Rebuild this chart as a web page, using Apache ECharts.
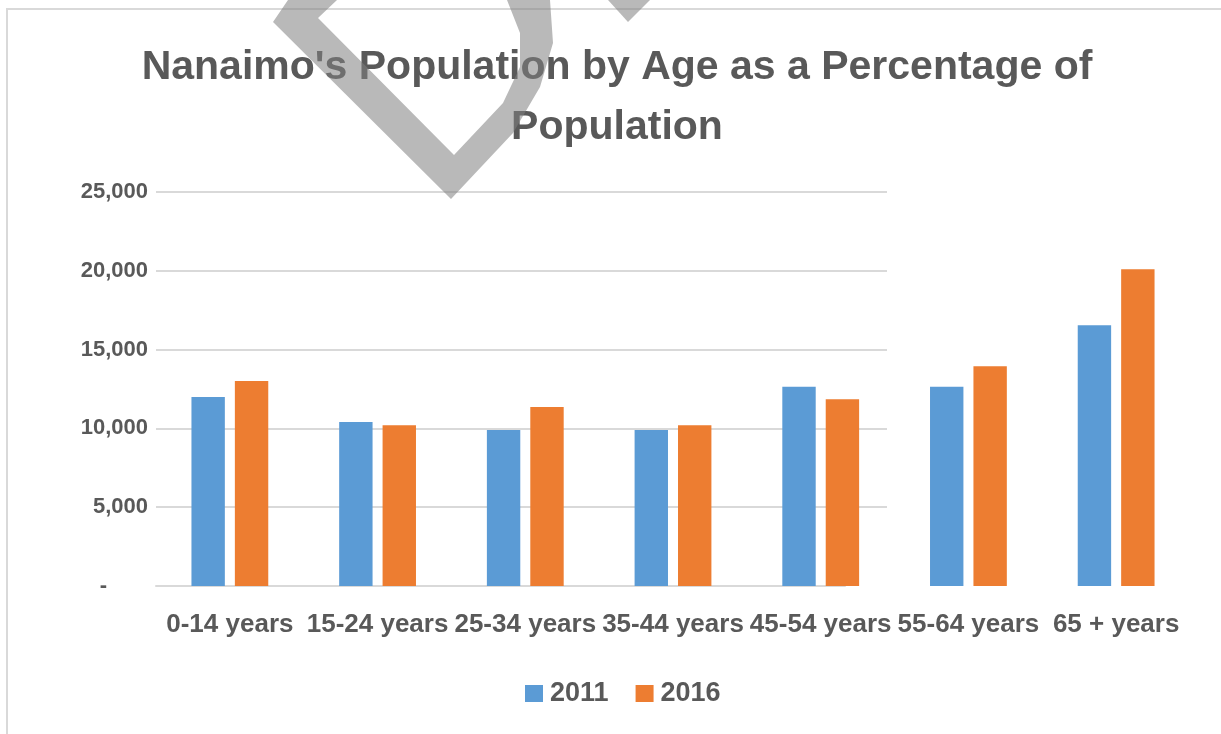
<!DOCTYPE html>
<html>
<head>
<meta charset="utf-8">
<script src="https://cdn.jsdelivr.net/npm/echarts@6/dist/echarts.min.js"></script>
<style>
html,body{margin:0;padding:0;background:#fff;}
#chart{width:1221px;height:734px;}
</style>
</head>
<body>
<div id="chart"></div>
<script>
const categories = ['0-14 years', '15-24 years', '25-34 years', '35-44 years', '45-54 years', '55-64 years', '65 + years'];
const seriesNames = ['2011', '2016'];
const values2011 = [12000, 10400, 9900, 9900, 12650, 12650, 16550];
const values2016 = [13000, 10200, 11350, 10200, 11850, 13950, 20100];
const yMin = 0, yMax = 25000, yInterval = 5000;
const titleText = "Nanaimo's Population by Age as a Percentage of\nPopulation";

const FONT = "'Liberation Sans', Arial, sans-serif";
const TXT = '#595959';
const GRID = '#d9d9d9';

const chart = echarts.init(document.getElementById('chart'), null, {renderer: 'canvas'});

const option = {
  backgroundColor: '#ffffff',
  textStyle: {fontFamily: FONT},
  animation: false,
  title: {
    text: titleText,
    left: 612,
    top: 33,
    textAlign: 'center',
    textStyle: {fontFamily: FONT, fontSize: 41, fontWeight: 'bold', color: TXT, lineHeight: 60}
  },
  legend: {
    data: seriesNames,
    left: 520,
    top: 675,
    itemWidth: 18,
    itemHeight: 17,
    itemGap: 27,
    icon: 'rect',
    textStyle: {fontFamily: FONT, fontSize: 27, fontWeight: 'bold', color: TXT, padding: [0, 0, 0, 2]}
  },
  grid: [
    {left: 156, right: 31, top: 192, bottom: 148},
    {left: 156, width: 731, top: 192, bottom: 148},
    {left: 156, width: 689, top: 192, bottom: 148}
  ],
  xAxis: [
    {
      gridIndex: 0, type: 'category', data: categories,
      axisLine: {show: false}, axisTick: {show: false},
      axisLabel: {interval: 0, margin: 26, fontFamily: FONT, fontSize: 26, fontWeight: 'bold', color: TXT},
      z: 5
    },
    {gridIndex: 1, type: 'category', data: categories, show: false},
    {
      gridIndex: 2, type: 'category', data: categories,
      axisLine: {show: true, lineStyle: {color: GRID, width: 2}},
      axisTick: {show: false}, axisLabel: {show: false}, splitLine: {show: false}
    }
  ],
  yAxis: [
    {gridIndex: 0, type: 'value', min: yMin, max: yMax, interval: yInterval, show: false, splitLine: {show: false}},
    {
      gridIndex: 1, type: 'value', min: yMin, max: yMax, interval: yInterval,
      axisLine: {show: false}, axisTick: {show: false},
      axisLabel: {
        margin: 8, fontFamily: FONT, fontSize: 22, fontWeight: 'bold', color: TXT,
        formatter: function (v) { return v === 0 ? '{z|-}' : v.toLocaleString('en-US'); },
        rich: {z: {fontFamily: FONT, fontSize: 22, fontWeight: 'bold', color: TXT, padding: [0, 41, 0, 0]}}
      },
      splitLine: {show: true, lineStyle: {color: ['rgba(0,0,0,0)', GRID, GRID, GRID, GRID, GRID], width: 2}}
    },
    {gridIndex: 2, type: 'value', min: yMin, max: yMax, interval: yInterval, show: false, splitLine: {show: false}}
  ],
  series: [
    {
      name: seriesNames[0], type: 'bar', xAxisIndex: 0, yAxisIndex: 0, data: values2011,
      itemStyle: {color: '#5B9BD5'}, barGap: '30%', barCategoryGap: '48%', z: 3
    },
    {
      name: seriesNames[1], type: 'bar', xAxisIndex: 0, yAxisIndex: 0, data: values2016,
      itemStyle: {color: '#ED7D31'}, barGap: '30%', barCategoryGap: '48%', z: 3
    }
  ],
  graphic: [
    {
      type: 'rect', z: -10, silent: true,
      shape: {x: 7, y: 9, width: 1300, height: 1000},
      style: {fill: 'none', stroke: GRID, lineWidth: 2}
    },
    {
      type: 'polygon', z: 100, silent: true,
      shape: {points: [[288, 0], [273, 22], [451, 199], [513, 133], [540, 87], [553, 43], [550, 0], [507, 0], [520, 33], [520, 67], [503, 103], [454, 155], [318, 18], [337, 0]]},
      style: {fill: 'rgba(127,127,127,0.55)'}
    },
    {
      type: 'polygon', z: 100, silent: true,
      shape: {points: [[608, 0], [650, 0], [628, 22]]},
      style: {fill: 'rgba(127,127,127,0.55)'}
    }
  ]
};
chart.setOption(option);
</script>
</body>
</html>
